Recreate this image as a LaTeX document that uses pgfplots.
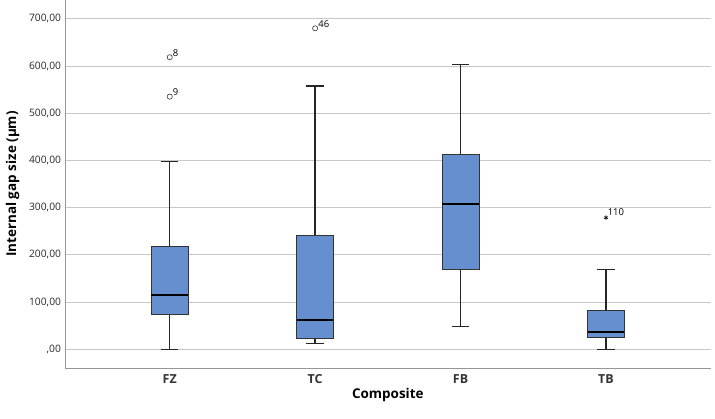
\documentclass[border=0pt]{standalone}
\usepackage{pgfplots}
\pgfplotsset{compat=1.18}
\usepgfplotslibrary{statistics}
\usepackage{fontspec}
\setmainfont{Open Sans}
\definecolor{boxblue}{RGB}{102,143,208}
\definecolor{gridgray}{RGB}{200,200,200}
\definecolor{axgray}{RGB}{150,150,150}
\begin{document}
\begin{tikzpicture}
\begin{axis}[
  at={(0,0)}, anchor=south west,
  scale only axis,
  width=645.7bp, height=368bp,
  xmin=-0.72, xmax=3.72,
  ymin=-39.6, ymax=740,
  axis x line*=bottom, axis y line*=left,
  axis line style={axgray, line width=0.9pt},
  x axis line style={-}, y axis line style={-},
  major tick length=0pt,
  ymajorgrids, grid style={gridgray, line width=0.9pt},
  ytick={0,100,200,300,400,500,600,700},
  yticklabels={{,00},{100,00},{200,00},{300,00},{400,00},{500,00},{600,00},{700,00}},
  xtick={0,1,2,3}, xticklabels={FZ,TC,FB,TB},
  yticklabel style={font=\fontsize{10.3}{11}\selectfont, text=black!85, xshift=-0.5pt},
  xticklabel style={font=\fontsize{12.5}{13}\selectfont\bfseries, text=black!80, yshift=-3pt},
  ylabel={\textbf{Internal gap size (µm)}},
  xlabel={\textbf{Composite}},
  label style={font=\fontsize{13.5}{15}\selectfont},
  ylabel style={yshift=3pt},
  xlabel style={yshift=2pt},
  clip=false,
  boxplot/draw direction=y,
  boxplot/box extend=0.252,
  boxplot/whisker extend=0.12,
  boxplot/every box/.style={draw=black!80, fill=boxblue, line width=0.7pt},
  boxplot/every whisker/.style={black!85, line width=1.5pt},
  boxplot/every median/.style={black, line width=2pt},
]
\addplot[boxplot prepared={draw position=0, lower whisker=0, lower quartile=73.3, median=115.7, upper quartile=217.4, upper whisker=397.6}] coordinates {};
\addplot[boxplot prepared={draw position=1, lower whisker=11.9, lower quartile=23.3, median=62.1, upper quartile=242.2, upper whisker=558}] coordinates {};
\addplot[boxplot prepared={draw position=2, lower whisker=47.9, lower quartile=169.5, median=307.9, upper quartile=413.9, upper whisker=603}] coordinates {};
\addplot[boxplot prepared={draw position=3, lower whisker=0, lower quartile=26, median=36, upper quartile=83.3, upper whisker=168.7}] coordinates {};
\addplot[only marks, mark=o, mark size=2.6pt, black!80, line width=0.6pt,
  nodes near coords, point meta=explicit symbolic,
  every node near coord/.style={anchor=south west, font=\fontsize{9.5}{10}\selectfont, text=black, inner sep=0pt, xshift=3pt, yshift=0.5pt}]
  table[meta=label] {
x y label
0 618.8 8
0 535.3 9
1 680 46
};
\addplot[only marks, mark=asterisk, mark size=2.3pt, black, line width=0.6pt,
  nodes near coords, point meta=explicit symbolic,
  every node near coord/.style={anchor=south west, font=\fontsize{9.5}{10}\selectfont, text=black, inner sep=0pt, xshift=1.5pt, yshift=2pt}]
  table[meta=label] {
x y label
3 278.9 110
};
\end{axis}
\pgfresetboundingbox
\path (-65bp,-51bp) rectangle (650bp,368bp);
\end{tikzpicture}
\end{document}
